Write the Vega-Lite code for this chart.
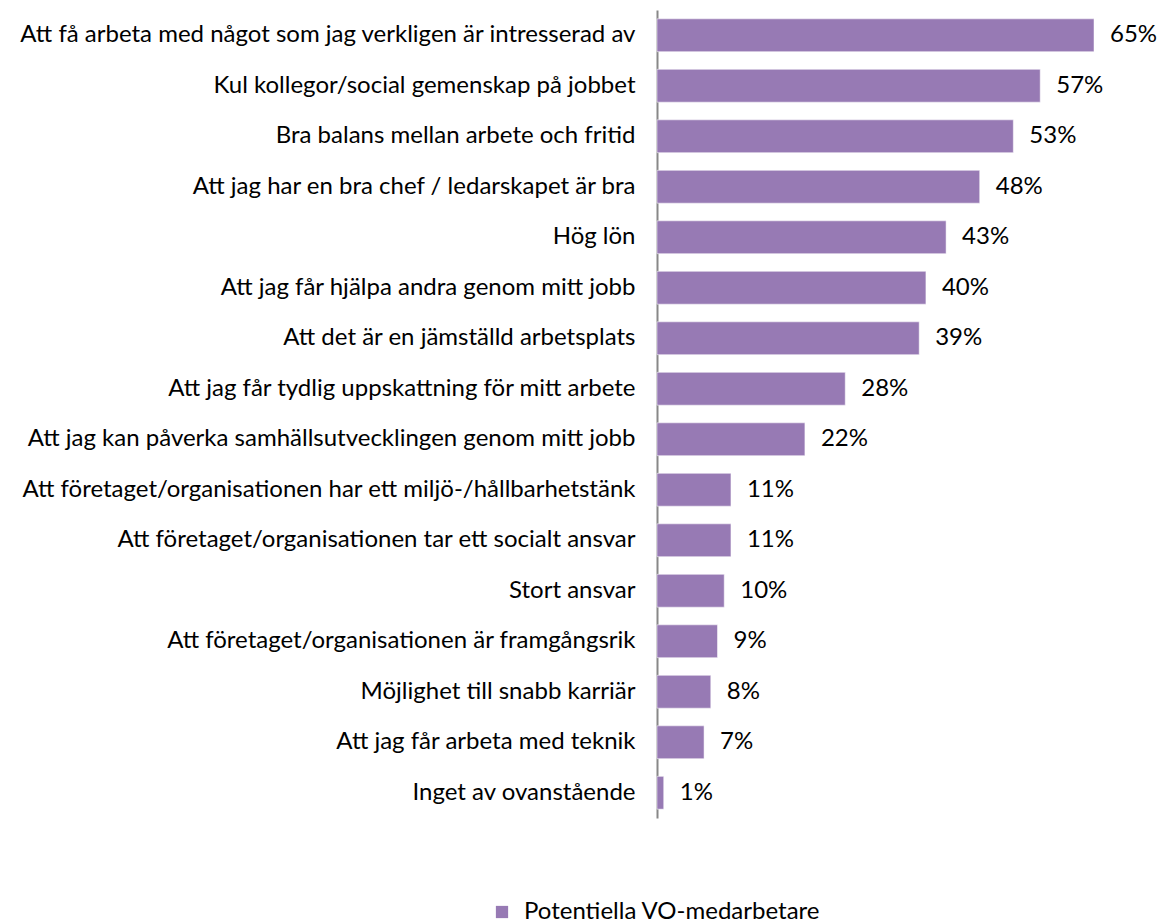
{
  "$schema": "https://vega.github.io/schema/vega-lite/v6.json",
  "autosize": {"type": "none"},
  "width": 437,
  "height": 808,
  "padding": {"left": 657, "top": 10, "right": 67, "bottom": 105},
  "background": "white",
  "config": {"view": {"stroke": null}, "font": "Lato"},
  "data": {"values": [
    {"item": "Att få arbeta med något som jag verkligen är intresserad av", "value": 0.65, "series": "Potentiella VO-medarbetare"},
    {"item": "Kul kollegor/social gemenskap på jobbet", "value": 0.57, "series": "Potentiella VO-medarbetare"},
    {"item": "Bra balans mellan arbete och fritid", "value": 0.53, "series": "Potentiella VO-medarbetare"},
    {"item": "Att jag har en bra chef / ledarskapet är bra", "value": 0.48, "series": "Potentiella VO-medarbetare"},
    {"item": "Hög lön", "value": 0.43, "series": "Potentiella VO-medarbetare"},
    {"item": "Att jag får hjälpa andra genom mitt jobb", "value": 0.40, "series": "Potentiella VO-medarbetare"},
    {"item": "Att det är en jämställd arbetsplats", "value": 0.39, "series": "Potentiella VO-medarbetare"},
    {"item": "Att jag får tydlig uppskattning för mitt arbete", "value": 0.28, "series": "Potentiella VO-medarbetare"},
    {"item": "Att jag kan påverka samhällsutvecklingen genom mitt jobb", "value": 0.22, "series": "Potentiella VO-medarbetare"},
    {"item": "Att företaget/organisationen har ett miljö-/hållbarhetstänk", "value": 0.11, "series": "Potentiella VO-medarbetare"},
    {"item": "Att företaget/organisationen tar ett socialt ansvar", "value": 0.11, "series": "Potentiella VO-medarbetare"},
    {"item": "Stort ansvar", "value": 0.10, "series": "Potentiella VO-medarbetare"},
    {"item": "Att företaget/organisationen är framgångsrik", "value": 0.09, "series": "Potentiella VO-medarbetare"},
    {"item": "Möjlighet till snabb karriär", "value": 0.08, "series": "Potentiella VO-medarbetare"},
    {"item": "Att jag får arbeta med teknik", "value": 0.07, "series": "Potentiella VO-medarbetare"},
    {"item": "Inget av ovanstående", "value": 0.01, "series": "Potentiella VO-medarbetare"}
  ]},
  "encoding": {
    "y": {"field": "item", "type": "nominal", "sort": null,
      "scale": {"paddingInner": 0.35, "paddingOuter": 0.175},
      "axis": {"title": null, "ticks": false, "domain": true, "domainColor": "#888888", "domainWidth": 2,
        "labelFontSize": 24, "labelColor": "#000000", "labelPadding": 22, "labelLimit": 0, "labelFont": "Lato"}},
    "x": {"field": "value", "type": "quantitative", "scale": {"domain": [0, 0.65], "nice": false}, "axis": null}
  },
  "layer": [
    {"mark": {"type": "bar", "stroke": "#ffffff", "strokeWidth": 0.5},
      "encoding": {"color": {"field": "series", "type": "nominal", "scale": {"range": ["#977AB4"]},
        "legend": {"title": null, "orient": "none", "legendX": -167, "legendY": 890, "symbolType": "square", "symbolSize": 150, "symbolStrokeWidth": 0,
          "labelFontSize": 24, "labelColor": "#000000", "labelFont": "Lato", "labelOffset": 10, "labelLimit": 0}}}},
    {"mark": {"type": "text", "align": "left", "dx": 16, "fontSize": 24, "font": "Lato", "color": "#000000"},
      "encoding": {"text": {"field": "value", "type": "quantitative", "format": ".0%"}}}
  ]
}
